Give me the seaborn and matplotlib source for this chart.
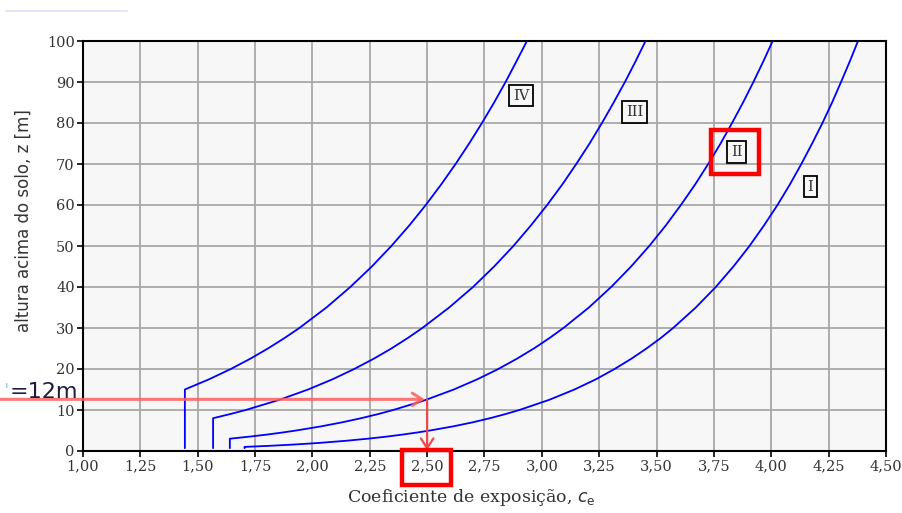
import numpy as np
import pandas as pd
import matplotlib
matplotlib.use('Agg')
import matplotlib.pyplot as plt
import seaborn as sns
from matplotlib.lines import Line2D
from matplotlib.patches import Rectangle
from matplotlib.ticker import FixedLocator, FuncFormatter

# ---- data ----
categories = ['I', 'II', 'III', 'IV']
z_I = [0.7, 1, 1.25, 1.5, 1.75, 2, 2.5, 3, 3.5, 4, 4.5, 5, 6, 7, 8, 9, 10, 12.5, 15, 17.5,
       20, 22.5, 25, 27.5, 30, 35, 40, 45, 50, 55, 60, 65, 70, 75, 80, 85, 90, 95, 100]
ce_I = [1.704, 1.704, 1.808, 1.895, 1.970, 2.036, 2.148, 2.241, 2.322, 2.392, 2.455, 2.512,
        2.613, 2.699, 2.774, 2.841, 2.902, 3.033, 3.142, 3.236, 3.317, 3.390, 3.456, 3.517,
        3.572, 3.671, 3.758, 3.835, 3.905, 3.968, 4.027, 4.081, 4.131, 4.178, 4.223, 4.265,
        4.304, 4.342, 4.378]
z_II = [0.7, 3, 3.5, 4, 4.5, 5, 6, 7, 8, 9, 10, 12, 12.5, 15, 17.5, 20, 22.5, 25, 27.5, 30,
        35, 40, 45, 50, 55, 60, 65, 70, 75, 80, 85, 90, 95, 100]
ce_II = [1.640, 1.640, 1.725, 1.801, 1.868, 1.929, 2.037, 2.130, 2.212, 2.286, 2.352, 2.469,
         2.496, 2.616, 2.719, 2.810, 2.891, 2.965, 3.032, 3.094, 3.205, 3.302, 3.389, 3.468,
         3.540, 3.606, 3.668, 3.725, 3.779, 3.829, 3.877, 3.922, 3.965, 4.006]
z_III = [0.7, 8, 9, 10, 12.5, 15, 17.5, 20, 22.5, 25, 27.5, 30, 35, 40, 45, 50, 55, 60, 65,
         70, 75, 80, 85, 90, 95, 100]
ce_III = [1.567, 1.567, 1.641, 1.709, 1.857, 1.981, 2.088, 2.182, 2.267, 2.344, 2.414, 2.479,
          2.596, 2.700, 2.792, 2.876, 2.952, 3.023, 3.089, 3.150, 3.208, 3.262, 3.313, 3.362,
          3.408, 3.452]
z_IV = [0.7, 15, 17.5, 20, 22.5, 25, 27.5, 30, 35, 40, 45, 50, 55, 60, 65, 70, 75, 80, 85,
        90, 95, 100]
ce_IV = [1.444, 1.444, 1.550, 1.644, 1.729, 1.806, 1.877, 1.943, 2.061, 2.165, 2.259, 2.344,
         2.422, 2.494, 2.561, 2.624, 2.683, 2.739, 2.792, 2.842, 2.889, 2.935]

label_ce = [4.169, 3.849, 3.404, 2.909]
label_z = [64.5, 72.9, 82.7, 86.7]

x_ticks = [1.00, 1.25, 1.50, 1.75, 2.00, 2.25, 2.50, 2.75, 3.00, 3.25, 3.50, 3.75, 4.00, 4.25, 4.50]
y_ticks = [0, 10, 20, 30, 40, 50, 60, 70, 80, 90, 100]

arrow_z = 12.6
arrow_ce = 2.50
ref_text = '=12m'

# ---- build table ----
rows = []
for cat, zs, cs in [('I', z_I, ce_I), ('II', z_II, ce_II), ('III', z_III, ce_III), ('IV', z_IV, ce_IV)]:
    for i, (z, c) in enumerate(zip(zs, cs)):
        rows.append({'cat': cat, 'ce': c, 'z': z, 'order': i})
df = pd.DataFrame(rows)

sns.set_style('ticks')
plt.rcParams['font.family'] = ['DejaVu Serif', 'DejaVu Sans']

fig = plt.figure(figsize=(9.03, 5.13), dpi=100)
ax = fig.add_axes([83/903, 1-451/513, (886-83)/903, (451-41)/513])
ax.set_facecolor('#f7f7f7')

sns.lineplot(data=df, x='ce', y='z', hue='cat', palette={c: '#0000ff' for c in categories},
             estimator=None, sort=False, legend=False, lw=1.3, ax=ax, zorder=3)

ax.set_xlim(1.0, 4.5)
ax.set_ylim(0, 100)
ax.xaxis.set_major_locator(FixedLocator(x_ticks))
ax.yaxis.set_major_locator(FixedLocator(y_ticks))
ax.xaxis.set_major_formatter(FuncFormatter(lambda v, p: f'{v:.2f}'.replace('.', ',')))
ax.yaxis.set_major_formatter(FuncFormatter(lambda v, p: f'{int(round(v))}'))
ax.grid(True, color='#a8a8a8', lw=1.3, zorder=1)
ax.set_axisbelow(True)
for s in ax.spines.values():
    s.set_color('black')
    s.set_linewidth(1.5)
ax.tick_params(direction='out', length=4, width=1.2, color='black', labelcolor='#333333',
               labelsize=10.5, pad=2)

ax.set_xlabel('Coeficiente de exposição, $c_\\mathrm{e}$', fontsize=12.5, color='#333333',
              family='DejaVu Serif')
ax.set_ylabel('altura acima do solo, z [m]', fontsize=12, color='#333333',
              family='DejaVu Sans')
ax.yaxis.set_label_coords(-0.062, 0.563)
ax.xaxis.set_label_coords(0.484, -0.088)

# category labels
for cat, cx, cz in zip(categories, label_ce, label_z):
    ax.text(cx, cz, cat, ha='center', va='center', fontsize=10.5, color='#333333',
            family='DejaVu Serif', zorder=5,
            bbox=dict(boxstyle='square,pad=0.25', fc='#f7f7f7', ec='black', lw=1.3))

# red highlight around II
ax.add_patch(Rectangle((3.738, 67.6), 0.209, 10.8, fill=False, ec='#ff0000', lw=3.2,
                       zorder=6, clip_on=False))
# red highlight around 2,50 tick label
ax.add_patch(Rectangle((2.391, -8.3), 0.213, 8.6, fill=False, ec='#ff0000', lw=3.2,
                       zorder=6, clip_on=False))

# reference arrows
ax.annotate('', xy=(arrow_ce - 0.01, arrow_z), xycoords='data',
            xytext=(0.0, arrow_z), textcoords=('figure fraction', 'data'),
            arrowprops=dict(arrowstyle='->,head_length=0.7,head_width=0.45',
                            color='#ff6060', lw=2.2, alpha=0.85, shrinkA=0, shrinkB=0),
            annotation_clip=False, zorder=4)
ax.annotate('', xy=(arrow_ce, 0.2), xycoords='data',
            xytext=(arrow_ce, arrow_z), textcoords='data',
            arrowprops=dict(arrowstyle='->,head_length=0.7,head_width=0.45',
                            color='#f04848', lw=1.6, shrinkA=0, shrinkB=0),
            annotation_clip=False, zorder=4)

fig.text(3/903, 1-392/513, "'", color='#9fd0ee', fontsize=14, family='DejaVu Sans',
         ha='left', va='center')
fig.text(10/903, 1-392/513, ref_text, color='#1c1c3c', fontsize=16, family='DejaVu Sans',
         ha='left', va='center')

fig.add_artist(Line2D([6/903, 127/903], [1-11/513, 1-11/513], color='#e4e4fb', lw=1.5))

fig.savefig('out.png', dpi=100)
